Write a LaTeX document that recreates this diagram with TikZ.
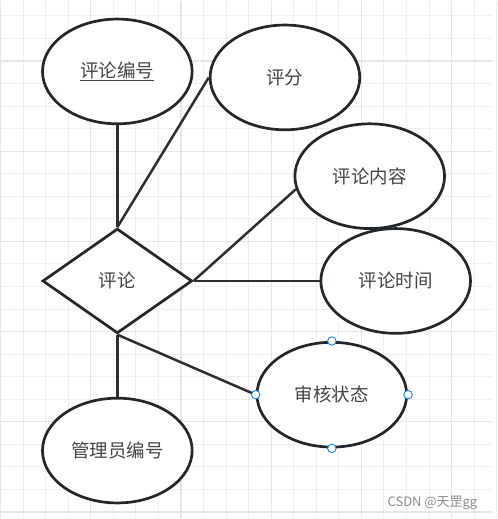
\documentclass[tikz,border=0pt]{standalone}
\usepackage{fontspec}
\setmainfont{Noto Sans CJK SC}
\usepackage{tikz}
\usetikzlibrary{shapes.geometric}
\definecolor{gridminor}{HTML}{EFEFEF}
\definecolor{gridmajor}{HTML}{E6E6E6}
\definecolor{edgecol}{HTML}{23272B}
\definecolor{linecol}{HTML}{2E2E2E}
\definecolor{txtcol}{HTML}{444444}
\definecolor{handle}{HTML}{1A7FF0}

\begin{document}
\begin{tikzpicture}[x=1pt, y=-1pt,
        attr/.style  ={ellipse, draw=edgecol, line width=2.7pt, fill=white,
                       minimum width=150pt, minimum height=105pt, inner sep=0pt,
                       text=txtcol, font=\fontsize{18.5}{20}\selectfont},
        rel/.style   ={diamond, draw=edgecol, line width=2.7pt, fill=white,
                       minimum width=150pt, minimum height=105pt, inner sep=0pt,
                       text=txtcol, font=\fontsize{18.5}{20}\selectfont},
        conn/.style  ={draw=linecol, line width=2.5pt},
        hdl/.style   ={circle, draw=handle, fill=white, line width=0.9pt,
                       minimum size=8.5pt, inner sep=0pt},]

    % background grid
    \fill[white] (0,0) rectangle (493,519);
    \foreach \k in {0,...,22}
        \draw[gridminor, line width=1pt] (22.6*\k, 0) -- (22.6*\k, 519);
    \foreach \k in {0,...,22}
        \draw[gridminor, line width=1pt] (0, 15.4+22.6*\k) -- (493, 15.4+22.6*\k);
    \foreach \k in {0,...,5}
        \draw[gridmajor, line width=1.2pt] (90.4*\k, 0) -- (90.4*\k, 519);
    \foreach \k in {0,...,5}
        \draw[gridmajor, line width=1.2pt] (0, 60.6+90.4*\k) -- (493, 60.6+90.4*\k);
    \useasboundingbox (0,0) rectangle (493,519);

    \node[rel]  (pl) at (117, 281) {评论};
    \node[attr] (bh) at (117,  71) {\underline{评论编号}};
    \node[attr] (pf) at (285,  77) {评分};
    \node[attr] (nr) at (370, 176) {评论内容};
    \node[attr] (sj) at (396, 281) {评论时间};
    \node[attr] (gl) at (117, 451) {管理员编号};
    \node[attr] (sh) at (332, 395) {审核状态};

    \draw[conn] (bh.south) -- (pl.north);
    \draw[conn] (pl.north) -- (pf.west);
    \draw[conn] (pl.east)  -- (nr.190);
    \draw[conn] (pl.east)  -- (sj.west);
    \draw[conn] (pl.south) -- (gl.north);
    \draw[conn] (pl.south) -- (sh.west);

    % selection handles
    \node[hdl] (hn) at (sh.north) {};
    \node[hdl] (he) at (sh.east)  {};
    \node[hdl] (hs) at (sh.south) {};
    \node[hdl] (hw) at (sh.west)  {};

    \node[anchor=east, text=black!45, inner sep=0pt,
          font=\fontsize{13}{15}\selectfont] (wm) at (478, 503) {CSDN @天罡gg};
\end{tikzpicture}
\end{document}
